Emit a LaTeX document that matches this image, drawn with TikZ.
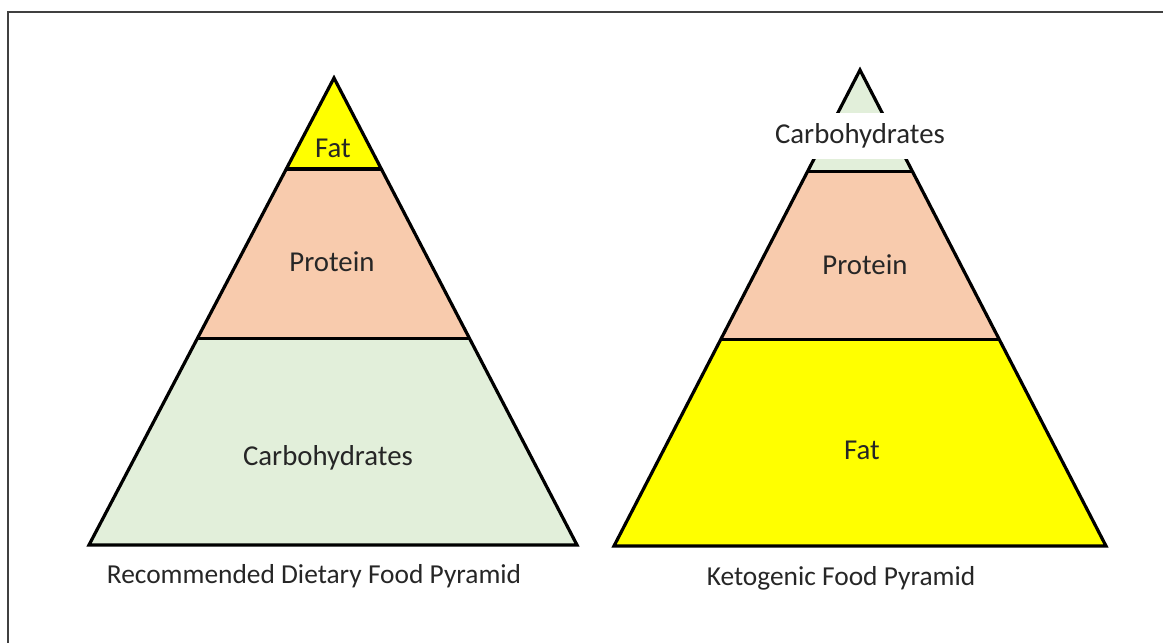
\documentclass[tikz,border=0pt]{standalone}
\usepackage{fontspec}
\setmainfont{Carlito}
\usetikzlibrary{calc,positioning}
\definecolor{fatyellow}{RGB}{255,255,0}
\definecolor{protpeach}{RGB}{248,203,173}
\definecolor{carbgreen}{RGB}{226,239,218}
\definecolor{inkgray}{RGB}{38,38,38}

\begin{document}
\begin{tikzpicture}[x=0.5pt, y=-0.5pt, line width=1.6pt,
    lbl/.style={font=\fontsize{14.4}{17}\selectfont, text=inkgray, inner sep=0pt},
    captxt/.style={font=\fontsize{13.7}{16}\selectfont, text=inkgray, inner sep=0pt}]
  \useasboundingbox (0,0) rectangle (1163,643);
  % Frame (only left and top visible)
  \draw[line width=1pt, black!75] (8,643) -- (8,12) -- (1163,12);

  % Left pyramid: recommended
  \coordinate (lTop) at (334,78);
  \coordinate (lBL) at (89,545);
  \coordinate (lBR) at (577,545);
  \coordinate (lA1) at ($(lTop)!0.195!(lBL)$);
  \coordinate (lB1) at ($(lTop)!0.195!(lBR)$);
  \coordinate (lA2) at ($(lTop)!0.557!(lBL)$);
  \coordinate (lB2) at ($(lTop)!0.557!(lBR)$);
  \fill[fatyellow] (lTop) -- (lA1) -- (lB1) -- cycle;
  \fill[protpeach] (lA1) -- (lA2) -- (lB2) -- (lB1) -- cycle;
  \fill[carbgreen] (lA2) -- (lBL) -- (lBR) -- (lB2) -- cycle;
  \draw (lTop) -- (lBL) -- (lBR) -- cycle;
  \draw (lA1) -- (lB1);
  \draw (lA2) -- (lB2);
  \node[lbl] (lFat) at (333,148) {Fat};
  \node[lbl] (lProt) at (332,262) {Protein};
  \node[lbl] (lCarb) at (328,458) {Carbohydrates};
  \node[captxt] (lCap) at (314,576) {Recommended Dietary Food Pyramid};

  % Right pyramid: ketogenic
  \coordinate (rTop) at (860,70);
  \coordinate (rBL) at (614,546);
  \coordinate (rBR) at (1106,546);
  \coordinate (rA1) at ($(rTop)!0.214!(rBL)$);
  \coordinate (rB1) at ($(rTop)!0.214!(rBR)$);
  \coordinate (rA2) at ($(rTop)!0.567!(rBL)$);
  \coordinate (rB2) at ($(rTop)!0.567!(rBR)$);
  \fill[carbgreen] (rTop) -- (rA1) -- (rB1) -- cycle;
  \fill[protpeach] (rA1) -- (rA2) -- (rB2) -- (rB1) -- cycle;
  \fill[fatyellow] (rA2) -- (rBL) -- (rBR) -- (rB2) -- cycle;
  \draw (rTop) -- (rBL) -- (rBR) -- cycle;
  \draw (rA1) -- (rB1);
  \draw (rA2) -- (rB2);
  \node[lbl, fill=white, minimum height=23pt] (rCarb) at (860,136) {Carbohydrates};
  \node[lbl] (rProt) at (865,265) {Protein};
  \node[lbl] (rFat) at (862,450) {Fat};
  \node[captxt] (rCap) at (841,578) {Ketogenic Food Pyramid};
\end{tikzpicture}
\end{document}
